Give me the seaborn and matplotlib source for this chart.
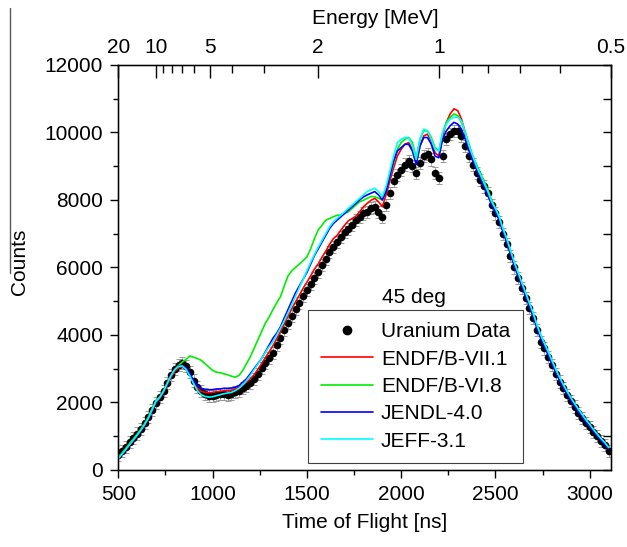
import numpy as np
import pandas as pd
import matplotlib
matplotlib.use("Agg")
import matplotlib.pyplot as plt
from matplotlib.lines import Line2D
from matplotlib.ticker import MultipleLocator
import seaborn as sns

# time of flight grid [ns]
tof = np.arange(500, 3101, 20)

# measured counts (uranium, 45 deg)
uranium = [450, 560, 690, 820, 950, 1080, 1220, 1380, 1560, 1770,
           1990, 2150, 2340, 2580, 2820, 3000, 3120, 3170, 3090, 2900,
           2650, 2450, 2330, 2240, 2200, 2190, 2210, 2240, 2250, 2230,
           2260, 2300, 2350, 2420, 2500, 2580, 2700, 2850, 3020, 3180,
           3330, 3470, 3700, 3900, 4150, 4350, 4550, 4780, 4950, 5150,
           5330, 5500, 5700, 5880, 6080, 6250, 6450, 6600, 6750, 6900,
           7050, 7150, 7250, 7400, 7500, 7600, 7650, 7750, 7800, 7650,
           7500, 7850, 8200, 8550, 8750, 8900, 9050, 9150, 9000, 8800,
           9100, 9300, 9350, 9200, 8800, 8650, 9300, 9800, 9950, 10050,
           10050, 9900, 9600, 9300, 9050, 8800, 8600, 8400, 8200, 7850,
           7600, 7350, 7000, 6700, 6350, 6000, 5700, 5400, 5100, 4800,
           4500, 4150, 3800, 3600, 3350, 3100, 2850, 2620, 2420, 2230,
           2050, 1880, 1700, 1550, 1400, 1270, 1130, 1000, 870, 750,
           560]
count_err = 180

endf71 = [360, 480, 620, 760, 900, 1040, 1190, 1350, 1530, 1760,
          2000, 2120, 2300, 2520, 2750, 2930, 3030, 3060, 2980, 2800,
          2580, 2420, 2330, 2300, 2290, 2300, 2320, 2330, 2350, 2340,
          2360, 2400, 2450, 2520, 2600, 2700, 2820, 2980, 3150, 3330,
          3500, 3680, 3880, 4100, 4330, 4550, 4780, 4980, 5180, 5380,
          5560, 5750, 5950, 6100, 6300, 6480, 6680, 6850, 6950, 7100,
          7250, 7380, 7450, 7520, 7650, 7800, 7900, 7990, 8050, 7950,
          7800, 8150, 8550, 8950, 9300, 9500, 9650, 9700, 9500, 9100,
          9600, 9900, 9950, 9750, 9400, 9300, 9900, 10300, 10550, 10700,
          10650, 10400, 10000, 9600, 9250, 8950, 8700, 8450, 8200, 7900,
          7700, 7450, 7100, 6800, 6450, 6100, 5800, 5500, 5200, 4900,
          4600, 4250, 3950, 3700, 3450, 3180, 2930, 2700, 2480, 2290,
          2100, 1930, 1760, 1600, 1450, 1310, 1170, 1030, 900, 780,
          640]

endf68 = [380, 500, 640, 780, 920, 1060, 1210, 1380, 1570, 1820,
          2060, 2160, 2350, 2580, 2800, 2980, 3100, 3200, 3280, 3380,
          3340, 3300, 3250, 3150, 3050, 2950, 2900, 2880, 2850, 2820,
          2780, 2750, 2800, 2950, 3150, 3350, 3600, 3850, 4100, 4350,
          4530, 4750, 4950, 5130, 5450, 5750, 5900, 6000, 6100, 6200,
          6310, 6550, 6850, 7110, 7250, 7400, 7450, 7500, 7550, 7550,
          7600, 7650, 7750, 7850, 7950, 7990, 8050, 8100, 8100, 8050,
          8000, 8300, 8700, 9100, 9500, 9700, 9800, 9850, 9700, 9250,
          9800, 10050, 10050, 9850, 9550, 9450, 10000, 10300, 10450, 10550,
          10500, 10300, 10000, 9650, 9300, 9050, 8800, 8550, 8300, 8000,
          7750, 7500, 7150, 6850, 6500, 6150, 5850, 5550, 5250, 4950,
          4650, 4300, 4000, 3750, 3500, 3230, 2970, 2740, 2520, 2320,
          2130, 1960, 1790, 1630, 1480, 1340, 1190, 1050, 920, 800,
          660]

jendl40 = [330, 460, 600, 740, 880, 1020, 1170, 1340, 1520, 1760,
           2000, 2130, 2320, 2560, 2800, 2980, 3080, 3100, 3020, 2850,
           2650, 2500, 2420, 2380, 2380, 2380, 2400, 2400, 2420, 2420,
           2430, 2450, 2500, 2600, 2700, 2850, 3000, 3150, 3300, 3500,
           3700, 3900, 4050, 4240, 4500, 4750, 5000, 5250, 5450, 5650,
           5850, 6100, 6350, 6550, 6750, 6950, 7150, 7300, 7400, 7500,
           7600, 7700, 7800, 7900, 8000, 8090, 8150, 8200, 8250, 8150,
           8000, 8250, 8700, 9150, 9450, 9550, 9650, 9650, 9450, 9050,
           9600, 9850, 9850, 9650, 9300, 9250, 9800, 10050, 10200, 10300,
           10250, 10100, 9800, 9450, 9150, 8900, 8650, 8400, 8150, 7850,
           7650, 7400, 7050, 6750, 6400, 6050, 5750, 5450, 5150, 4850,
           4550, 4200, 3900, 3650, 3400, 3140, 2890, 2660, 2450, 2260,
           2070, 1900, 1730, 1570, 1420, 1290, 1150, 1010, 880, 760,
           620]

jeff31 = [340, 470, 610, 750, 890, 1030, 1180, 1350, 1540, 1790,
          2030, 2150, 2330, 2570, 2800, 2980, 3070, 3080, 2980, 2780,
          2550, 2350, 2230, 2180, 2160, 2170, 2200, 2230, 2260, 2280,
          2300, 2350, 2420, 2520, 2650, 2800, 2970, 3130, 3300, 3480,
          3650, 3800, 4000, 4200, 4420, 4650, 4900, 5150, 5400, 5650,
          5900, 6150, 6380, 6600, 6800, 7000, 7200, 7350, 7450, 7550,
          7650, 7750, 7850, 7950, 8050, 8150, 8250, 8300, 8350, 8250,
          8100, 8400, 8850, 9300, 9700, 9800, 9850, 9850, 9600, 9200,
          9800, 10100, 10050, 9800, 9500, 9450, 10000, 10250, 10400, 10450,
          10450, 10350, 10000, 9600, 9300, 9000, 8750, 8500, 8250, 7950,
          7750, 7500, 7150, 6850, 6500, 6150, 5850, 5550, 5250, 4950,
          4650, 4300, 4000, 3750, 3500, 3240, 2980, 2750, 2530, 2330,
          2140, 1970, 1800, 1640, 1490, 1350, 1200, 1060, 930, 810,
          670]

libraries = ["ENDF/B-VII.1", "ENDF/B-VI.8", "JENDL-4.0", "JEFF-3.1"]
lib_colors = ["#ff0000", "#00ee00", "#0000ff", "#00ffff"]

energy_major = [20, 10, 5, 2, 1, 0.5]
energy_labels = ["20", "10", "5", "2", "1", "0.5"]
energy_minor = [9, 8, 7, 6, 4, 3, 0.9, 0.8, 0.7, 0.6]

sns.set_style("ticks")
plt.rcParams['font.family'] = ['Liberation Sans', 'DejaVu Sans']
plt.rcParams['font.size'] = 15
for k in ['text.color', 'axes.labelcolor', 'xtick.color', 'ytick.color', 'axes.edgecolor']:
    plt.rcParams[k] = 'black'


def tof_of_energy(e):
    # relativistic flight time over ~30.4 m
    g = 1 + e / 939.565
    beta = np.sqrt(1 - 1 / g**2)
    return 101.5 / beta


fig = plt.figure(figsize=(6.27, 5.47), dpi=100)
ax = fig.add_axes([0.1877, 0.1408, 0.7868, 0.7404])

df = pd.DataFrame({"tof": np.tile(tof, len(libraries)),
                   "counts": np.concatenate([endf71, endf68, jendl40, jeff31]),
                   "lib": np.repeat(libraries, len(tof))})

ax.errorbar(tof, uranium, yerr=count_err, fmt='none', ecolor='0.55',
            elinewidth=0.5, capsize=2.5, capthick=0.6, zorder=1)
sns.scatterplot(x=tof, y=uranium, color='black', s=30, linewidth=0, ax=ax, zorder=2)
sns.lineplot(data=df, x="tof", y="counts", hue="lib", hue_order=libraries,
             palette=lib_colors, lw=1.2, legend=False, ax=ax, zorder=3)

ax.set_xlim(497, 3113)
ax.set_ylim(0, 12000)
ax.xaxis.set_major_locator(MultipleLocator(500))
ax.xaxis.set_minor_locator(MultipleLocator(250))
ax.yaxis.set_major_locator(MultipleLocator(2000))
ax.yaxis.set_minor_locator(MultipleLocator(1000))
ax.tick_params(which='both', direction='out', top=False, right=False, width=1, pad=5)
ax.tick_params(which='major', length=5.5)
ax.tick_params(which='minor', length=3.5)
ax.set_xlabel("Time of Flight [ns]")
ax.set_ylabel("Counts")
ax.xaxis.set_label_coords(0.5, -0.105)
ax.yaxis.set_label_coords(-0.18, 0.513)
for sp in ax.spines.values():
    sp.set_linewidth(1)

# right side ticks, inward
axr = ax.twinx()
axr.set_ylim(0, 12000)
axr.yaxis.set_major_locator(MultipleLocator(1000))
axr.tick_params(direction='in', length=6, width=1, labelright=False)

# top energy axis
axt = ax.twiny()
axt.set_xlim(ax.get_xlim())
axt.set_xticks([tof_of_energy(e) for e in energy_major])
axt.set_xticklabels(energy_labels)
axt.set_xticks([tof_of_energy(e) for e in energy_minor], minor=True)
axt.tick_params(which='both', direction='in', width=1, pad=6)
axt.tick_params(which='major', length=9)
axt.tick_params(which='minor', length=5.5)
axt.set_xlabel("Energy [MeV]")
axt.xaxis.set_label_coords(0.522, 1.10)

ax.text(0.601, 0.427, "45 deg", ha='center', va='center', transform=ax.transAxes)

handles = [Line2D([], [], marker='o', color='black', ls='none', markersize=6)]
handles += [Line2D([], [], color=c, lw=1.2) for c in lib_colors]
leg = ax.legend(handles, ["Uranium Data"] + libraries, loc='lower left',
                bbox_to_anchor=(0.386, 0.017, 0.436, 0.373), mode='expand',
                borderaxespad=0, borderpad=0.6, labelspacing=0.4,
                handlelength=2.5, handletextpad=0.4, fancybox=False,
                framealpha=1, edgecolor='0.25', fontsize=15)
leg.get_frame().set_linewidth(0.8)
leg.set_zorder(5)

fig.add_artist(Line2D([10 / 627, 10 / 627], [1 - 8 / 547, 1 - 273 / 547],
                      transform=fig.transFigure, color='0.35', lw=1))

fig.savefig("out.png", dpi=100)
